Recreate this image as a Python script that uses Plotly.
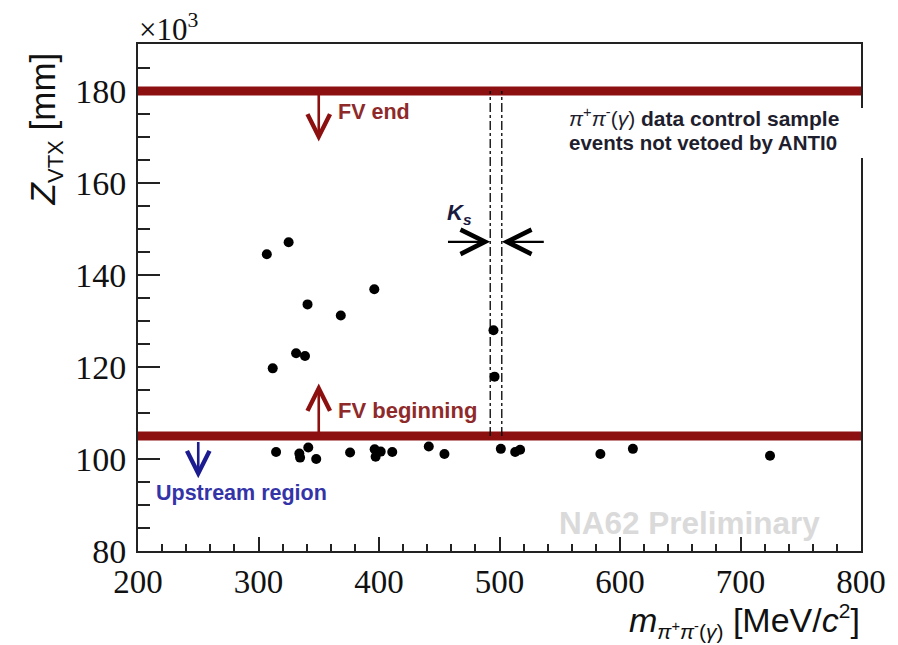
import plotly.graph_objects as go

# ---- data (Z in units of 10^3 mm, mass in MeV/c^2) ----
mass = [306.9, 325.0, 396.1, 340.7, 368.3, 331.2, 338.6, 311.8,
        495.0, 495.9,
        314.6, 333.9, 334.5, 341.3, 347.9, 376.0, 396.4, 397.2, 401.4,
        411.0, 441.3, 454.3, 501.1, 513.0, 517.1, 583.7, 610.7, 724.5]
zvtx = [144.5, 147.1, 136.9, 133.6, 131.2, 123.0, 122.4, 119.7,
        128.0, 117.9,
        101.5, 101.2, 100.3, 102.5, 100.0, 101.4, 102.1, 100.5, 101.6,
        101.5, 102.7, 101.1, 102.2, 101.5, 102.0, 101.1, 102.2, 100.7]

fv_limits = [105, 180]          # FV beginning / FV end
ks_window = [492.3, 501.9]      # K_S mass window
x_range = [200, 800]
y_range = [80, 190.2]
x_ticks = [200, 300, 400, 500, 600, 700, 800]
y_ticks = [80, 100, 120, 140, 160, 180]

RED = "#8c1010"
RED_TXT = "#8e2a2a"
BLUE = "#1c1c90"
BLUE_TXT = "#3434a8"

# page body has an 8px default margin -> figure origin is at (8, 8)
OFF = 8
W, H = 898 - OFF, 645 - OFF
L, R, T, B = 138 - OFF, 34, 44 - OFF, 94
PH = H - T - B  # plot height in px


def py(pix):
    """screen pixel row (reference coords) -> paper y"""
    return (551 - pix) / PH


def px(pix):
    return (pix - 138) / (W - L - R)


fig = go.Figure()

fig.add_trace(go.Scatter(
    x=mass, y=zvtx, mode="markers",
    marker=dict(color="black", size=10, line=dict(width=0)),
    showlegend=False, hoverinfo="skip"))

shapes = []
for v in fv_limits:
    shapes.append(dict(type="line", xref="x", yref="y", x0=x_range[0], x1=x_range[1],
                       y0=v, y1=v, line=dict(color=RED, width=9), layer="above"))
for v in ks_window:
    shapes.append(dict(type="line", xref="x", yref="y", x0=v, x1=v,
                       y0=fv_limits[0], y1=fv_limits[1],
                       line=dict(color="black", width=1.3, dash="dashdot"), layer="above"))
shapes.append(dict(type="rect", xref="paper", yref="paper", x0=0.60, x1=1.02,
                   y0=py(158), y1=py(108),
                   fillcolor="white", line=dict(width=0), layer="above"))

annotations = []


def arrow(x, y, ax, ay, color, width=2.6, size=1.7):
    annotations.append(dict(x=x, y=y, ax=ax, ay=ay,
                            xref="x", yref="y", axref="x", ayref="y",
                            text="", showarrow=True, arrowhead=5, arrowsize=size,
                            arrowwidth=width, arrowcolor=color, standoff=0))


arrow(350, 169, 350, 180, RED)
arrow(350, 116.4, 350, 105, RED)
arrow(250, 95.8, 250, 104, BLUE)
arrow(ks_window[0], 147.2, 456, 147.2, "black", 2.4, 2.0)
arrow(ks_window[1], 147.2, 538, 147.2, "black", 2.4, 2.0)

SANS = "Liberation Sans, Arial, sans-serif"
SERIF = "Liberation Serif, Times New Roman, serif"


def label(text, x, y, size, color, xanchor="left", yanchor="middle", family=SANS, angle=0,
          xref="x", yref="y"):
    annotations.append(dict(text=text, x=x, y=y, xref=xref, yref=yref, showarrow=False,
                            xanchor=xanchor, yanchor=yanchor, textangle=angle,
                            font=dict(size=size, color=color, family=family)))


label("<b>FV end</b>", px(337), py(112), 21.5, RED_TXT, xref="paper", yref="paper")
label("<b>FV beginning</b>", px(337), py(411), 22, RED_TXT, xref="paper", yref="paper")
label("<b>Upstream region</b>", px(154), py(493), 21.5, BLUE_TXT, xref="paper", yref="paper")
label("<b><i>K</i><sub><i>s</i></sub></b>", px(446), py(214), 22, "#1a1a40",
      xref="paper", yref="paper")
label("<b>NA62 Preliminary</b>", px(559), py(523), 31.5, "#dadada", xref="paper", yref="paper")
label("<i>π</i><sup>+</sup><i>π</i><sup>-</sup>(<i>γ</i>)<b> data control sample</b>",
      px(569), py(117), 21, "#1e1e2e", xref="paper", yref="paper")
label("<b>events not vetoed by ANTI0</b>", px(569), py(142), 20.5, "#1e1e2e",
      xref="paper", yref="paper")
label("×10<sup>3</sup>", px(137), py(27), 31, "#111", family=SERIF,
      xref="paper", yref="paper")
label("<i>Z</i><sub><span style='font-size:22px'>VTX</span></sub> [mm]", px(45), py(129), 35,
      "#111", xanchor="center", angle=-90, xref="paper", yref="paper")
label("<i>m</i><sub><span style='font-size:21px'><i>π</i><sup>+</sup><i>π</i><sup>-</sup>(<i>γ</i>)</span></sub>"
      " [MeV/<i>c</i><sup><span style='font-size:21px'>2</span></sup>]",
      px(865), py(621), 34, "#111", xanchor="right", xref="paper", yref="paper")

fig.update_layout(
    width=W, height=H,
    margin=dict(l=L, r=R, t=T, b=B),
    paper_bgcolor="white", plot_bgcolor="white",
    shapes=shapes, annotations=annotations,
    xaxis=dict(range=x_range, tickvals=x_ticks, ticks="inside", ticklen=14, tickwidth=2,
               tickcolor="#222", showline=True, linecolor="#222", linewidth=2, mirror=True,
               showgrid=False, zeroline=False,
               tickfont=dict(family=SERIF, size=33, color="#111"),
               minor=dict(dtick=20, ticks="inside", ticklen=7, tickwidth=1.5, tickcolor="#222",
                          showgrid=False)),
    yaxis=dict(range=y_range, tickvals=y_ticks, ticks="inside", ticklen=22, tickwidth=2,
               tickcolor="#222", showline=True, linecolor="#222", linewidth=2, mirror=True,
               showgrid=False, zeroline=False, ticklabelstandoff=3,
               tickfont=dict(family=SERIF, size=34, color="#111"),
               minor=dict(dtick=5, ticks="inside", ticklen=12, tickwidth=1.5, tickcolor="#222",
                          showgrid=False)),
)

fig.write_html("out.html")
